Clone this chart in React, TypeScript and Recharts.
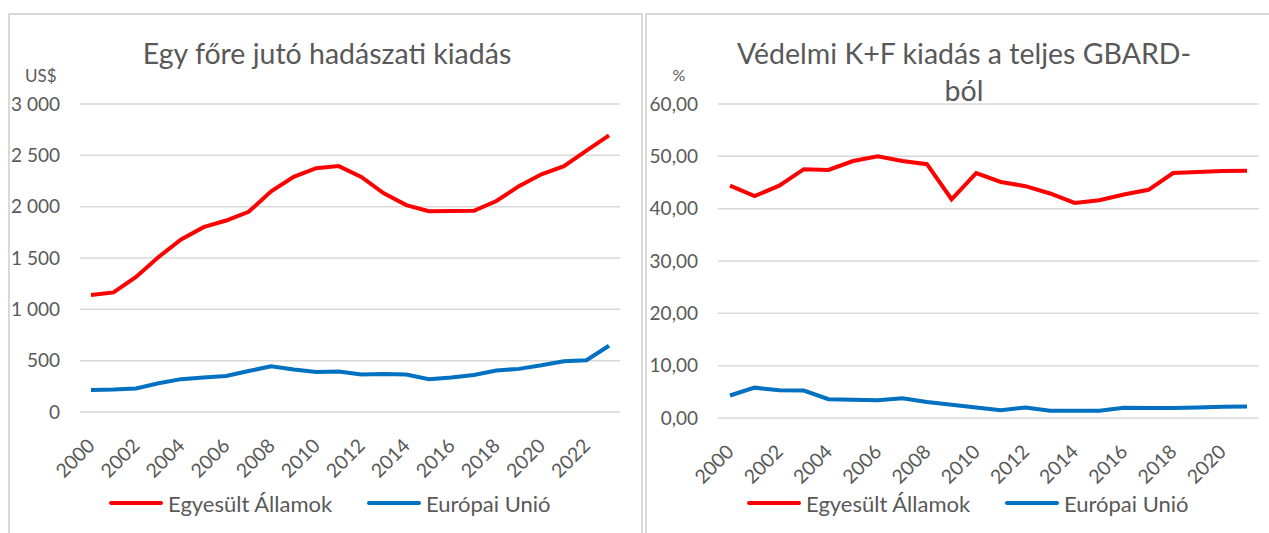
import React from 'react';
import { LineChart, Line, XAxis, YAxis, CartesianGrid, Legend } from 'recharts';

// Egy főre jutó hadászati kiadás (US$)
const spendingYears = [
  '2000', '2001', '2002', '2003', '2004', '2005', '2006', '2007',
  '2008', '2009', '2010', '2011', '2012', '2013', '2014', '2015',
  '2016', '2017', '2018', '2019', '2020', '2021', '2022', '2023',
];
const usSpending = [
  1140, 1165, 1315, 1510, 1680, 1800, 1865, 1950,
  2150, 2290, 2375, 2395, 2290, 2130, 2015, 1955,
  1958, 1960, 2055, 2200, 2315, 2395, 2545, 2695,
];
const euSpending = [
  215, 220, 230, 280, 320, 335, 350, 400,
  445, 415, 390, 395, 365, 370, 365, 320,
  335, 360, 405, 420, 455, 495, 505, 645,
];
const spendingTicks = [0, 500, 1000, 1500, 2000, 2500, 3000];

// Védelmi K+F kiadás a teljes GBARD-ból (%)
const gbardYears = [
  '2000', '2001', '2002', '2003', '2004', '2005', '2006', '2007',
  '2008', '2009', '2010', '2011', '2012', '2013', '2014', '2015',
  '2016', '2017', '2018', '2019', '2020', '2021',
];
const usGbard = [
  44.4, 42.4, 44.4, 47.55, 47.4, 49.1, 50.0, 49.1,
  48.5, 41.8, 46.8, 45.1, 44.3, 42.9, 41.1, 41.6,
  42.7, 43.6, 46.8, 47.0, 47.2, 47.25,
];
const euGbard = [
  4.3, 5.8, 5.3, 5.25, 3.6, 3.5, 3.4, 3.75,
  3.05, 2.55, 2.0, 1.5, 2.0, 1.4, 1.4, 1.4,
  1.95, 1.9, 1.9, 2.0, 2.15, 2.2,
];
const gbardTicks = [0, 10, 20, 30, 40, 50, 60];

const seriesNames = ['Egyesült Államok', 'Európai Unió'];
const RED = '#ff0000';
const BLUE = '#0070c0';
const TEXT = '#595959';
const FONT = 'Lato, "Open Sans", sans-serif';

const spendingData = spendingYears.map((year, i) => ({
  year,
  us: usSpending[i],
  eu: euSpending[i],
}));
const gbardData = gbardYears.map((year, i) => ({
  year,
  us: usGbard[i],
  eu: euGbard[i],
}));

const thousands = (v: number) =>
  String(v).replace(/\B(?=(\d{3})+(?!\d))/g, ' ');
const twoDecimals = (v: number) => v.toFixed(2).replace('.', ',');

const YearTick = (props: any) => {
  const { x, y, payload } = props;
  return (
    <text
      x={x}
      y={y}
      dy="0.36em"
      textAnchor="end"
      transform={`rotate(-45 ${x} ${y})`}
      fill={TEXT}
      fontSize={19.5}
      fontFamily={FONT}>
      {payload.value}
    </text>
  );
};

const makeLegend = (redX: number, blueX: number) => () =>
  (
    <div
      style={{
        position: 'relative',
        height: 36,
        fontFamily: FONT,
        fontSize: 22,
        color: TEXT,
      }}>
      {[redX, blueX].map((left, i) => (
        <div
          key={seriesNames[i]}
          style={{
            position: 'absolute',
            left,
            top: 0,
            height: 36,
            display: 'flex',
            alignItems: 'center',
            whiteSpace: 'nowrap',
          }}>
          <span
            style={{
              display: 'inline-block',
              width: 54,
              height: 4,
              borderRadius: 2,
              background: i === 0 ? RED : BLUE,
              marginRight: 5,
            }}
          />
          {seriesNames[i]}
        </div>
      ))}
    </div>
  );

const App: React.FC = () => {
  return (
    <div
      style={{
        position: 'absolute',
        left: 0,
        top: 0,
        width: 1269,
        height: 533,
        background: '#fff',
        overflow: 'hidden',
      }}>
      {/* chart frames */}
      <div
        style={{
          position: 'absolute',
          left: 8,
          top: 13,
          width: 631,
          height: 560,
          border: '2px solid #d9d9d9',
        }}
      />
      <div
        style={{
          position: 'absolute',
          left: 645,
          top: 13,
          width: 640,
          height: 560,
          border: '2px solid #d9d9d9',
        }}
      />

      <div style={{ position: 'absolute', left: 0, top: 0 }}>
        <LineChart
          width={643}
          height={533}
          data={spendingData}
          margin={{ top: 104, right: 23, left: 0, bottom: 12 }}>
          <CartesianGrid
            vertical={false}
            stroke="#d9d9d9"
            strokeWidth={1.5}
          />
          <XAxis
            dataKey="year"
            interval={1}
            height={73}
            axisLine={false}
            tickLine={false}
            tickSize={0}
            tickMargin={30}
            padding={{ left: 11, right: 11 }}
            tick={<YearTick />}
          />
          <YAxis
            width={80}
            domain={[0, 3000]}
            ticks={spendingTicks}
            interval={0}
            axisLine={false}
            tickLine={false}
            tickSize={0}
            tickMargin={20}
            tickFormatter={thousands}
            tick={{ fill: TEXT, fontSize: 19, fontFamily: FONT }}
          />
          <Legend
            verticalAlign="bottom"
            wrapperStyle={{ left: 0, width: 643 }}
            content={makeLegend(109, 367)}
          />
          <Line
            type="linear"
            dataKey="us"
            name={seriesNames[0]}
            stroke={RED}
            strokeWidth={4}
            dot={false}
            isAnimationActive={false}
          />
          <Line
            type="linear"
            dataKey="eu"
            name={seriesNames[1]}
            stroke={BLUE}
            strokeWidth={4}
            dot={false}
            isAnimationActive={false}
          />
        </LineChart>
      </div>

      <div style={{ position: 'absolute', left: 645, top: 0 }}>
        <LineChart
          width={624}
          height={533}
          data={gbardData}
          margin={{ top: 104, right: 10, left: 0, bottom: 12 }}>
          <CartesianGrid
            vertical={false}
            stroke="#d9d9d9"
            strokeWidth={1.5}
          />
          <XAxis
            dataKey="year"
            interval={1}
            height={67}
            axisLine={false}
            tickLine={false}
            tickSize={0}
            tickMargin={30}
            padding={{ left: 12, right: 12 }}
            tick={<YearTick />}
          />
          <YAxis
            width={73}
            domain={[0, 60]}
            ticks={gbardTicks}
            interval={0}
            axisLine={false}
            tickLine={false}
            tickSize={0}
            tickMargin={20}
            tickFormatter={twoDecimals}
            tick={{ fill: TEXT, fontSize: 19, fontFamily: FONT }}
          />
          <Legend
            verticalAlign="bottom"
            wrapperStyle={{ left: 0, width: 624 }}
            content={makeLegend(102, 360)}
          />
          <Line
            type="linear"
            dataKey="us"
            name={seriesNames[0]}
            stroke={RED}
            strokeWidth={4}
            dot={false}
            isAnimationActive={false}
          />
          <Line
            type="linear"
            dataKey="eu"
            name={seriesNames[1]}
            stroke={BLUE}
            strokeWidth={4}
            dot={false}
            isAnimationActive={false}
          />
        </LineChart>
      </div>

      {/* titles and units */}
      <svg
        width={1269}
        height={533}
        style={{ position: 'absolute', left: 0, top: 0, pointerEvents: 'none' }}>
        <g fill={TEXT} fontFamily={FONT}>
          <text x={327} y={64} fontSize={28.5} textAnchor="middle">
            Egy főre jutó hadászati kiadás
          </text>
          <text x={25} y={82} fontSize={17}>
            US$
          </text>
          <text x={964} y={64} fontSize={28.5} textAnchor="middle">
            Védelmi K+F kiadás a teljes GBARD-
          </text>
          <text x={964} y={101} fontSize={28.5} textAnchor="middle">
            ból
          </text>
          <text x={679} y={81} fontSize={16} textAnchor="middle">
            %
          </text>
        </g>
      </svg>
    </div>
  );
};

export default App;
